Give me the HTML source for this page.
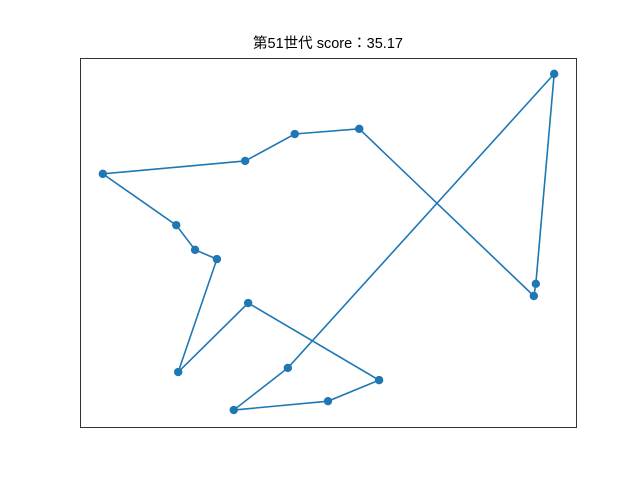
<!DOCTYPE html>
<html><head><meta charset="utf-8"><style>
body{margin:0;background:#fff;}
svg{display:block;}
</style></head><body>
<svg width="640" height="480" id="chart">
<rect x="0" y="0" width="640" height="480" fill="#fff"/>
<text x="328" y="48" text-anchor="middle" font-size="14.5" font-family="Liberation Sans, Noto Sans CJK JP, sans-serif" fill="#000">第51世代 score：35.17</text>
<g id="plot"></g>
<rect x="80.5" y="58.5" width="496" height="369" fill="none" stroke="#000" stroke-width="0.8"/>
</svg>
<script>
const xs = [95.6, 91.9, 91.5, 56.3, 43.3, 33.3, 4.6, 19.4, 23.2, 27.6, 19.8, 33.9, 60.3, 50.0, 31.0, 41.9];
const ys = [95.7, 38.8, 35.5, 80.8, 79.4, 72.1, 68.6, 54.7, 48.0, 45.5, 14.9, 33.6, 12.7, 7.0, 4.6, 16.0];
const X0=80, X1=576, Y0=427, Y1=58;
function sx(v){return X0+(X1-X0)*v/100;}
function sy(v){return Y0-(Y0-Y1)*v/100;}
const g=document.getElementById('plot');
const ns='http://www.w3.org/2000/svg';
let pts=xs.map((x,i)=>sx(x)+','+sy(ys[i]));
pts.push(pts[0]);
const pl=document.createElementNS(ns,'polyline');
pl.setAttribute('points',pts.join(' '));
pl.setAttribute('fill','none');pl.setAttribute('stroke','#1f77b4');pl.setAttribute('stroke-width','1.6');


g.appendChild(pl);
xs.forEach((x,i)=>{
 const c=document.createElementNS(ns,'circle');
 c.setAttribute('cx',sx(x));c.setAttribute('cy',sy(ys[i]));c.setAttribute('r','4.2');c.setAttribute('fill','#1f77b4');
 
 
 g.appendChild(c);
});
</script>
</body></html>
